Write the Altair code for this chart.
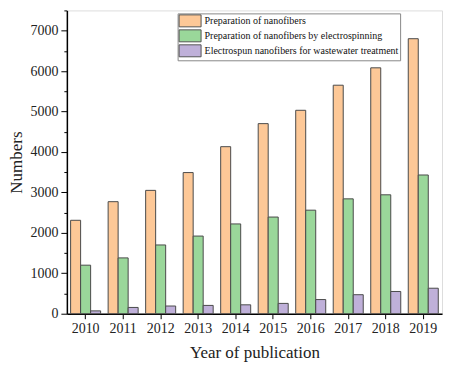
import altair as alt
import pandas as pd

years = ["2010", "2011", "2012", "2013", "2014", "2015", "2016", "2017", "2018", "2019"]
series_names = [
    "Preparation of nanofibers",
    "Preparation of nanofibers by electrospinning",
    "Electrospun nanofibers for wastewater treatment",
]
prep = [2310, 2770, 3050, 3490, 4130, 4700, 5030, 5650, 6080, 6800]
electro = [1200, 1380, 1700, 1920, 2220, 2390, 2560, 2840, 2940, 3430]
waste = [70, 155, 190, 205, 220, 255, 350, 470, 550, 630]
colors = ["#FDC897", "#9AD79A", "#BFB0D9"]

rows = []
for name, vals in zip(series_names, [prep, electro, waste]):
    for y, v in zip(years, vals):
        rows.append({"Year": y, "Series": name, "Numbers": v})
df = pd.DataFrame(rows)

font = "Liberation Serif"

chart = alt.Chart(df).mark_bar(stroke="#4a4a4a", strokeWidth=1).encode(
    x=alt.X("Year:N", title="Year of publication",
            scale=alt.Scale(paddingInner=0.2, paddingOuter=0.1),
            axis=alt.Axis(labelAngle=0, labelFontSize=14, titleFontSize=17,
                          labelFont=font, titleFont=font, tickSize=5,
                          tickColor="black", domainColor="black", domainWidth=1.5,
                          labelColor="#222", titleColor="#222", titleFontWeight="normal",
                          labelPadding=3, titlePadding=9)),
    xOffset=alt.XOffset("Series:N", sort=series_names),
    y=alt.Y("Numbers:Q", title="Numbers",
            scale=alt.Scale(domain=[0, 7500], nice=False),
            axis=alt.Axis(values=list(range(0, 7501, 500)),
                          labelExpr="datum.value % 1000 === 0 ? datum.label : ''",
                          format="d",
                          tickSize={"condition": {"test": "datum.value % 1000 === 0", "value": 6}, "value": 3},
                          labelFontSize=14, titleFontSize=17, labelFont=font, titleFont=font,
                          tickColor="black", domainColor="black", domainWidth=1.5,
                          labelColor="#222", titleColor="#222", titleFontWeight="normal",
                          grid=False, labelPadding=3, titlePadding=4)),
    color=alt.Color("Series:N", sort=series_names,
                    scale=alt.Scale(domain=series_names, range=colors),
                    legend=alt.Legend(title=None, orient="none", legendX=111, legendY=3,
                                      symbolType="M-1,-1H2.67V1H-1Z", symbolSize=144,
                                      symbolStrokeColor="#555", symbolStrokeWidth=1,
                                      symbolOpacity=1,
                                      labelFont=font, labelFontSize=10, labelColor="#111",
                                      fillColor="white", strokeColor="#888",
                                      padding=1, rowPadding=-5, labelOffset=13,
                                      labelLimit=300)),
).properties(
    width=376, height=304,
    autosize="none",
    padding={"left": 59, "top": 2, "right": 10, "bottom": 50},
).configure_view(stroke="black", strokeWidth=1.5).configure(background="white")

chart.save("out.html", embed_options={"renderer": "svg", "actions": False})
